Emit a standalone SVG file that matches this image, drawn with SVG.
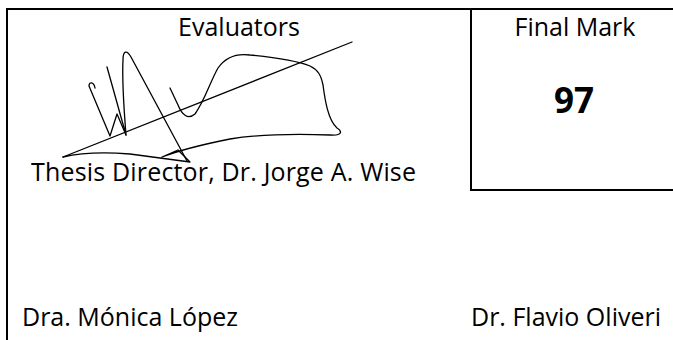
<svg xmlns="http://www.w3.org/2000/svg" width="673" height="340" viewBox="0 0 673 340">
  <style>
    .rule { stroke: #000; stroke-width: 2; fill: none; }
    .t { font-family: "Open Sans", "Noto Sans", "Liberation Sans", sans-serif; font-size: 25px; fill: #000; }
    .big { font-family: "Open Sans", "Noto Sans", "Liberation Sans", sans-serif; font-size: 35px; font-weight: bold; fill: #000; }
    .sig { stroke: #000; stroke-width: 1.3; fill: none; stroke-linecap: round; stroke-linejoin: round; }
  </style>
  <rect width="673" height="340" fill="#fff"/>
  <g id="table">
    <path class="rule" d="M7 340 V9 H673"/>
    <path class="rule" d="M471 9 V190 H673"/>
  </g>
  <g id="evaluators">
    <text class="t" x="239" y="36" text-anchor="middle">Evaluators</text>
  </g>
  <g id="final-mark">
    <text class="t" x="575" y="36" text-anchor="middle">Final Mark</text>
    <text class="big" x="574" y="113" text-anchor="middle">97</text>
  </g>
  <g id="signature">
    <path class="sig" d="M63 157 L352 42"/>
    <path class="sig" d="M95 88 C94 82 89 81 89 86 L110 136 L117 114 L126 135"/>
    <path class="sig" d="M107 67 L126 135 C124 110 122 80 123 60 C123 50 127 50 131 57 L187 161"/>
    <path class="sig" d="M63 157 C80 153 105 152 130 154 L160 158 L190 162 L178 150 L162 157 C180 150 200 145 230 139 C260 134 300 134 330 135 C343 136 342 131 337 128 C328 120 325 100 323 85 C321 75 318 70 310 66 C300 62 280 58 250 55 C235 53 225 58 218 68 C210 82 205 100 195 114 C188 120 182 115 178 105 L170 88"/>
  </g>
  <g id="director">
    <text class="t" x="31" y="181" textLength="385">Thesis Director, Dr. Jorge A. Wise</text>
  </g>
  <g id="lopez">
    <text class="t" x="22" y="326">Dra. Mónica López</text>
  </g>
  <g id="oliveri">
    <text class="t" x="661" y="326" text-anchor="end">Dr. Flavio Oliveri</text>
  </g>
</svg>
